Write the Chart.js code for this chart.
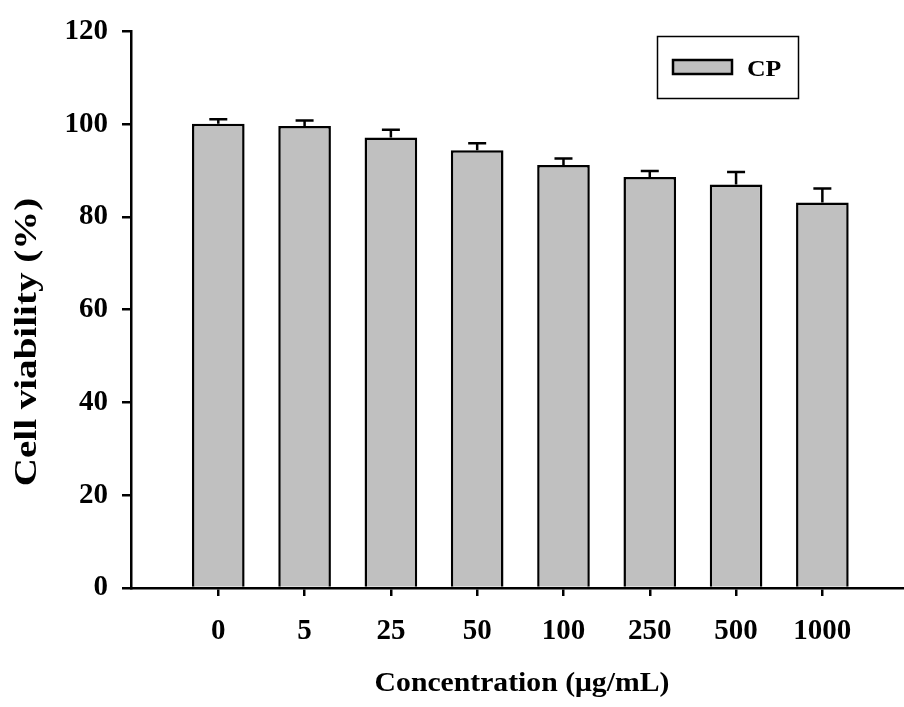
<!DOCTYPE html>
<html>
<head>
<meta charset="utf-8">
<script src="https://cdn.jsdelivr.net/npm/chart.js@4/dist/chart.umd.min.js"></script>
<style>
html,body{margin:0;padding:0;background:#fff;}
#wrap{width:904px;height:707px;position:relative;}
</style>
</head>
<body>
<div id="wrap"><canvas id="c" width="904" height="707"></canvas></div>
<script>
// ---- data ----
const concentrations = ['0', '5', '25', '50', '100', '250', '500', '1000'];
const viability = [100.1, 99.6, 97.1, 94.4, 91.2, 88.6, 87.0, 83.1];
const sdUpper = [0.95, 1.2, 1.7, 1.5, 1.4, 1.3, 2.7, 3.05];
const seriesName = 'CP';
const xTitle = 'Concentration (\u03bcg/mL)';
const yTitle = 'Cell viability (%)';

const FONT = '"Liberation Serif", "Times New Roman", serif';
const BAR_FILL = '#c0c0c0';

const errorBars = {
  id: 'errorBars',
  afterDatasetsDraw(chart) {
    const meta = chart.getDatasetMeta(0);
    const ys = chart.scales.y;
    const ctx = chart.ctx;
    ctx.save();
    ctx.strokeStyle = '#000';
    ctx.lineWidth = 2.5;
    meta.data.forEach((bar, i) => {
      const top = ys.getPixelForValue(viability[i]);
      const cap = ys.getPixelForValue(viability[i] + sdUpper[i]);
      ctx.beginPath();
      ctx.moveTo(bar.x, top);
      ctx.lineTo(bar.x, cap);
      ctx.moveTo(bar.x - 9, cap);
      ctx.lineTo(bar.x + 9, cap);
      ctx.stroke();
    });
    ctx.restore();
  }
};

function stretchedText(ctx, text, x, y, sx) {
  ctx.save();
  ctx.translate(x, y);
  ctx.scale(sx, 1);
  ctx.fillText(text, 0, 0);
  ctx.restore();
}

const decorations = {
  id: 'decorations',
  afterDraw(chart) {
    const ctx = chart.ctx;
    ctx.save();
    // legend box
    ctx.strokeStyle = '#000';
    ctx.lineWidth = 1.5;
    ctx.strokeRect(657.5, 36.5, 141, 62);
    ctx.fillStyle = BAR_FILL;
    ctx.fillRect(672, 59, 61, 16);
    ctx.lineWidth = 2.5;
    ctx.strokeRect(673, 60, 59, 14);
    ctx.fillStyle = '#000';
    ctx.font = 'bold 23px ' + FONT;
    ctx.textAlign = 'left';
    ctx.textBaseline = 'alphabetic';
    stretchedText(ctx, seriesName, 747, 75.5, 1.12);
    // axis titles
    ctx.font = 'bold 27px ' + FONT;
    ctx.textAlign = 'center';
    stretchedText(ctx, xTitle, 522, 690.5, 1.1);
    ctx.font = 'bold 32px ' + FONT;
    ctx.translate(36, 342);
    ctx.rotate(-Math.PI / 2);
    ctx.scale(1.22, 1);
    ctx.fillText(yTitle, 0, 0);
    ctx.restore();
  }
};

new Chart(document.getElementById('c'), {
  type: 'bar',
  data: {
    datasets: [{
      label: seriesName,
      data: viability.map((v, i) => ({ x: i, y: v })),
      backgroundColor: BAR_FILL,
      borderColor: '#000',
      borderWidth: 2.5,
      borderSkipped: 'bottom',
      barPercentage: 0.61,
      categoryPercentage: 1.0
    }]
  },
  options: {
    responsive: false,
    animation: false,
    events: [],
    layout: { padding: { left: 0, right: 0, top: 27, bottom: 0 } },
    plugins: { legend: { display: false }, tooltip: { enabled: false } },
    scales: {
      x: {
        type: 'linear',
        min: -1.0116,
        max: 7.946,
        offset: false,
        afterBuildTicks: (s) => { s.ticks = s.ticks.filter(t => Number.isInteger(t.value) && t.value >= 0 && t.value < concentrations.length); },
        afterFit: (s) => { s.height = 119; },
        ticks: {
          stepSize: 1,
          autoSkip: false,
          maxRotation: 0,
          includeBounds: false,
          padding: 18,
          color: '#000',
          font: { family: FONT, size: 29, weight: 'bold' },
          callback: (v) => concentrations[v] !== undefined ? concentrations[v] : ''
        },
        grid: { offset: false, drawOnChartArea: false, drawTicks: true, tickLength: 8, color: '#000', lineWidth: 2.5 },
        border: { display: true, color: '#000', width: 2.5 }
      },
      y: {
        min: 0,
        max: 120,
        afterFit: (s) => { s.width = 131; },
        ticks: {
          stepSize: 20,
          padding: 14,
          color: '#000',
          font: { family: FONT, size: 29, weight: 'bold' }
        },
        grid: { drawOnChartArea: false, drawTicks: true, tickLength: 9, color: '#000', lineWidth: 2.5 },
        border: { display: true, color: '#000', width: 2.5 }
      }
    }
  },
  plugins: [errorBars, decorations]
});
</script>
</body>
</html>
